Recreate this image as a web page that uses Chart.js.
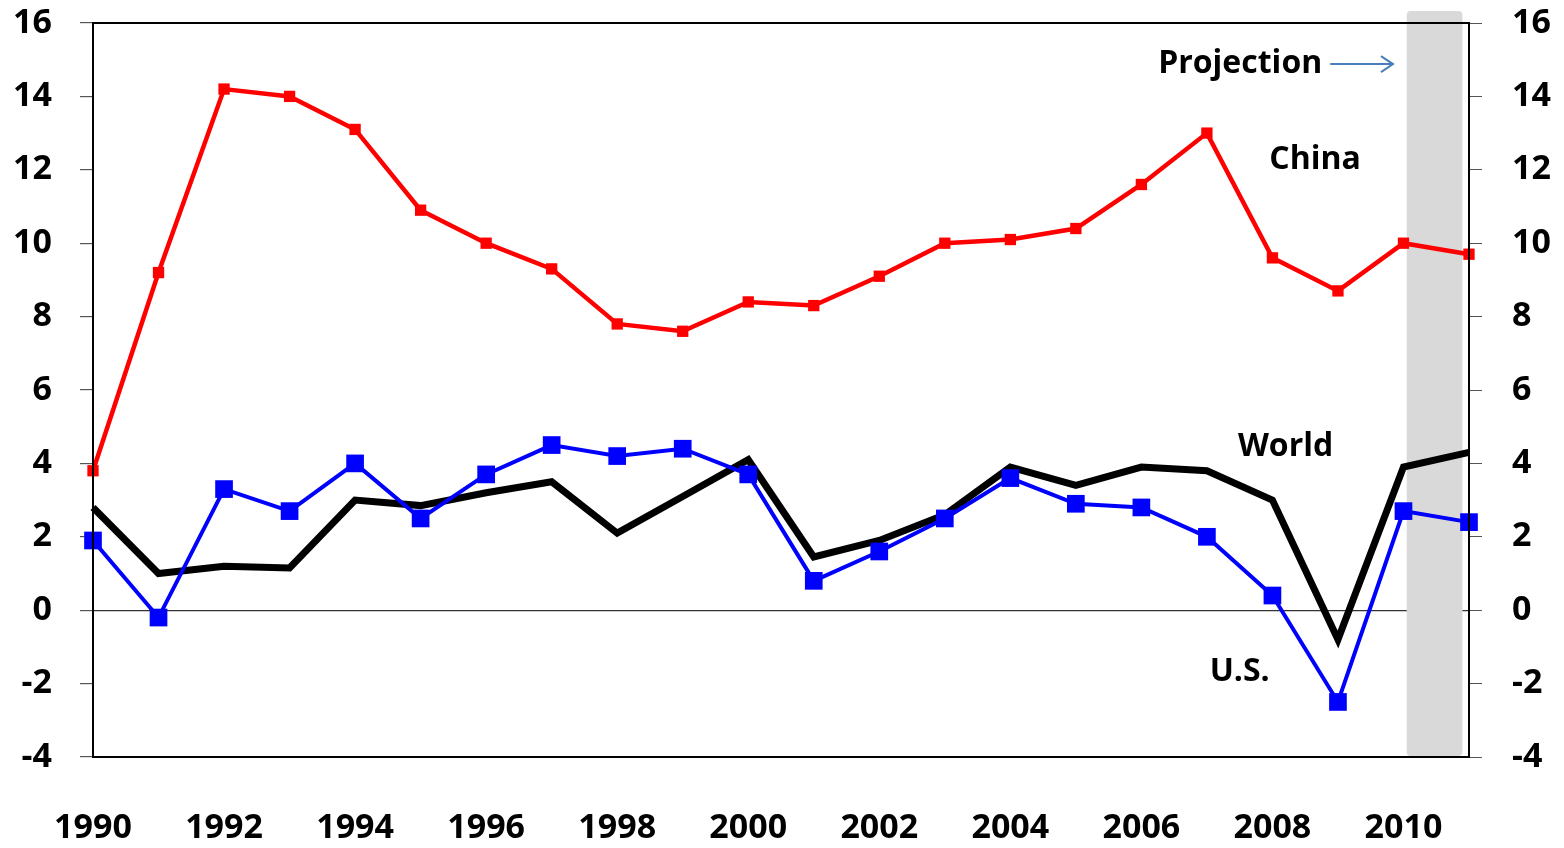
<!DOCTYPE html>
<html>
<head>
<meta charset="utf-8">
<script src="https://cdn.jsdelivr.net/npm/chart.js@4/dist/chart.umd.min.js"></script>
<style>
  html, body { margin: 0; padding: 0; background: #fff; }
  #wrap { width: 1564px; height: 848px; position: relative; }
</style>
</head>
<body>
<div id="wrap"><canvas id="chart" width="1564" height="848"></canvas></div>
<script>
const years = [1990, 1991, 1992, 1993, 1994, 1995, 1996, 1997, 1998, 1999, 2000,
               2001, 2002, 2003, 2004, 2005, 2006, 2007, 2008, 2009, 2010, 2011];
const china = [3.8, 9.2, 14.2, 14.0, 13.1, 10.9, 10.0, 9.3, 7.8, 7.6, 8.4,
               8.3, 9.1, 10.0, 10.1, 10.4, 11.6, 13.0, 9.6, 8.7, 10.0, 9.7];
const us    = [1.9, -0.2, 3.3, 2.7, 4.0, 2.5, 3.7, 4.5, 4.2, 4.4, 3.7,
               0.8, 1.6, 2.5, 3.6, 2.9, 2.8, 2.0, 0.4, -2.5, 2.7, 2.4];
const world = [2.8, 1.0, 1.2, 1.15, 3.0, 2.85, 3.2, 3.5, 2.1, 3.1, 4.1,
               1.45, 1.9, 2.6, 3.9, 3.4, 3.9, 3.8, 3.0, -0.8, 3.9, 4.3];
const xTickYears = [1990, 1992, 1994, 1996, 1998, 2000, 2002, 2004, 2006, 2008, 2010];

// projection band (years) and series labels (year, value)
const projectionBand = [2010.05, 2010.9];
const seriesLabels = [
  { text: 'China', x: 2008.65, y: 12.27 },
  { text: 'World', x: 2008.2, y: 4.45 },
  { text: 'U.S.', x: 2007.5, y: -1.68 }
];
const projectionLabel = { text: 'Projection', x: 2008.76, y: 14.88, arrowTo: 2009.84 };

const FONT = "'Open Sans', sans-serif";

const pts = (arr) => years.map((yr, i) => ({ x: yr, y: arr[i] }));

const ctx = document.getElementById('chart').getContext('2d');

const overlay = {
  id: 'overlay',
  beforeDatasetsDraw(chart) {
    const { ctx, chartArea, scales } = chart;
    const x0 = scales.x.getPixelForValue(projectionBand[0]);
    const x1 = scales.x.getPixelForValue(projectionBand[1]);
    ctx.save();
    ctx.fillStyle = '#d9d9d9';
    ctx.beginPath();
    ctx.roundRect(x0, chartArea.top - 12, x1 - x0, chartArea.bottom - chartArea.top + 11, 4);
    ctx.fill();
    ctx.restore();
  },
  afterDraw(chart) {
    const { ctx, chartArea, scales } = chart;
    ctx.save();
    // frame
    ctx.strokeStyle = '#000';
    ctx.lineWidth = 2;
    ctx.strokeRect(chartArea.left, chartArea.top, chartArea.right - chartArea.left, chartArea.bottom - chartArea.top);

    ctx.fillStyle = '#000';
    ctx.font = 'bold 32px ' + FONT;
    ctx.textBaseline = 'middle';
    ctx.textAlign = 'center';
    seriesLabels.forEach(l => {
      ctx.fillText(l.text, scales.x.getPixelForValue(l.x), scales.y.getPixelForValue(l.y));
    });

    const py = scales.y.getPixelForValue(projectionLabel.y);
    const px = scales.x.getPixelForValue(projectionLabel.x);
    ctx.textAlign = 'right';
    ctx.fillText(projectionLabel.text, px, py);
    const ax = scales.x.getPixelForValue(projectionLabel.arrowTo);
    ctx.strokeStyle = '#4a7ebb';
    ctx.lineWidth = 2;
    ctx.beginPath();
    ctx.moveTo(px + 8, py);
    ctx.lineTo(ax, py);
    ctx.moveTo(ax - 12, py - 8);
    ctx.lineTo(ax, py);
    ctx.lineTo(ax - 12, py + 8);
    ctx.stroke();
    ctx.restore();
  }
};

const noPad = (s) => { s.paddingTop = 0; s.paddingBottom = 0; s.paddingLeft = 0; s.paddingRight = 0; };

new Chart(ctx, {
  type: 'line',
  data: {
    datasets: [
      {
        label: 'China',
        data: pts(china),
        borderColor: '#ff0000',
        backgroundColor: '#ff0000',
        borderWidth: 4.5,
        pointStyle: 'rect',
        pointRadius: 8,
        pointBorderWidth: 0,
        clip: false
      },
      {
        label: 'U.S.',
        data: pts(us),
        borderColor: '#0000ff',
        backgroundColor: '#0000ff',
        borderWidth: 4,
        pointStyle: 'rect',
        pointRadius: 12.5,
        pointBorderWidth: 0,
        clip: false
      },
      {
        label: 'World',
        data: pts(world),
        borderColor: '#000',
        borderWidth: 7,
        pointRadius: 0,
        clip: false
      }
    ]
  },
  options: {
    responsive: false,
    animation: false,
    layout: { padding: { top: 23, left: 0, right: 0, bottom: 0 } },
    plugins: { legend: { display: false }, tooltip: { enabled: false } },
    elements: { line: { tension: 0, borderJoinStyle: 'miter' } },
    scales: {
      x: {
        type: 'linear',
        min: 1990,
        max: 2011,
        afterBuildTicks(s) { s.ticks = xTickYears.map(v => ({ value: v })); },
        afterFit(s) { s.height = 91; noPad(s); },
        border: { display: false },
        grid: { display: false, drawTicks: false },
        ticks: {
          padding: 51,
          color: '#000',
          font: { family: FONT, size: 34, weight: 'bold' },
          maxRotation: 0,
          autoSkip: false,
          callback: (v) => String(v)
        }
      },
      y: {
        position: 'left',
        min: -4,
        max: 16,
        afterFit(s) { s.width = 93; noPad(s); },
        border: { display: false },
        grid: {
          color: (c) => c.tick && c.tick.value === 0 ? '#333' : 'rgba(0,0,0,0)',
          lineWidth: 1.2,
          tickColor: '#555',
          tickLength: 13
        },
        ticks: {
          stepSize: 2,
          padding: 28,
          color: '#000',
          font: { family: FONT, size: 34, weight: 'bold' }
        }
      },
      y2: {
        position: 'right',
        min: -4,
        max: 16,
        afterFit(s) { s.width = 95; noPad(s); },
        border: { display: false },
        grid: {
          drawOnChartArea: false,
          tickColor: '#555',
          tickLength: 13
        },
        ticks: {
          stepSize: 2,
          padding: 30,
          color: '#000',
          font: { family: FONT, size: 34, weight: 'bold' }
        }
      }
    }
  },
  plugins: [overlay]
});
</script>
</body>
</html>
